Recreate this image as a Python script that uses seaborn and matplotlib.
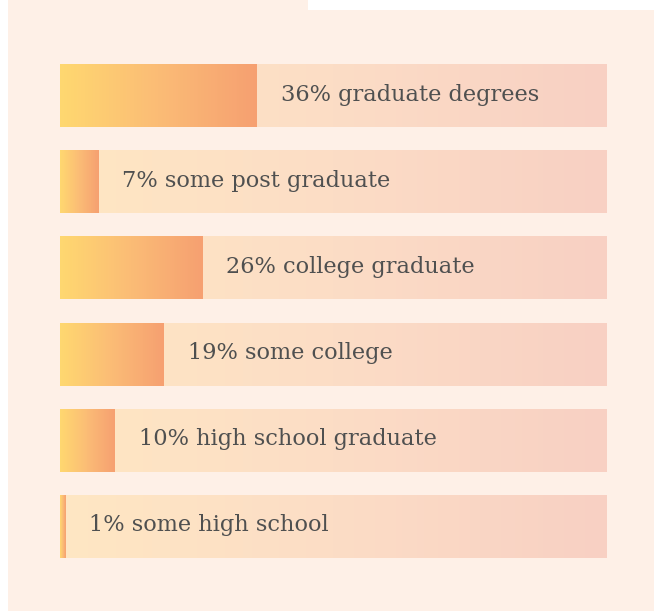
import numpy as np
import pandas as pd
import matplotlib
matplotlib.use("Agg")
import matplotlib.pyplot as plt
from matplotlib.colors import LinearSegmentedColormap
from matplotlib.patches import Rectangle
import seaborn as sns

# ---- data ----
categories = ["graduate degrees", "some post graduate", "college graduate",
              "some college", "high school graduate", "some high school"]
percentages = [36, 7, 26, 19, 10, 1]
track_total = [100, 100, 100, 100, 100, 100]

df = pd.DataFrame({"category": categories, "pct": percentages, "total": track_total})

W, H = 654, 611
fig = plt.figure(figsize=(W / 100, H / 100), dpi=100, facecolor="white")

peach = "#FEF0E7"
bg = fig.add_axes([0, 0, 1, 1], zorder=-5)
bg.set_xlim(0, W)
bg.set_ylim(H, 0)
bg.set_axis_off()
bg.add_patch(Rectangle((8, 10), 646, 601, facecolor=peach, edgecolor="none"))
bg.add_patch(Rectangle((8, 0), 300, 10, facecolor=peach, edgecolor="none"))

ax = fig.add_axes([60 / W, 1 - 569.6 / H, 547 / W, 517.2 / H], zorder=1)
ax.set_facecolor("none")

bar_w = 63 / 86.2
sns.barplot(data=df, y="category", x="total", orient="h", ax=ax, width=bar_w,
            color="#FBDCC4", saturation=1, edgecolor="none")
n_track = len(ax.patches)
sns.barplot(data=df, y="category", x="pct", orient="h", ax=ax, width=bar_w,
            color="#FBB870", saturation=1, edgecolor="none")

ax.set_xlim(0, 100)
ax.set_ylim(len(categories) - 0.5, -0.5)

track_cmap = LinearSegmentedColormap.from_list("track", ["#FFE7C3", "#FCDDC6", "#F8D0C3"])
fill_cmap = LinearSegmentedColormap.from_list("fill", ["#FFD870", "#FBBC76", "#F6A071"])
grad = np.linspace(0, 1, 256).reshape(1, -1)

patches = list(ax.patches)
for i, p in enumerate(patches):
    x0, y0 = p.get_x(), p.get_y()
    w, h = p.get_width(), p.get_height()
    cmap = track_cmap if i < n_track else fill_cmap
    z = 1 if i < n_track else 2
    im = ax.imshow(grad, cmap=cmap, aspect="auto", extent=(x0, x0 + w, y0 + h, y0),
                   zorder=z, interpolation="bicubic")
    im.set_clip_path(p)
    p.set_facecolor("none")

ax.set_xlim(0, 100)
ax.set_ylim(len(categories) - 0.5, -0.5)

for i, (cat, v) in enumerate(zip(categories, percentages)):
    ax.annotate(f"{v}% {cat}", xy=(v, i), xytext=(24, 1), textcoords="offset pixels",
                ha="left", va="center", fontsize=16.2, color="#4F5050",
                family=["DejaVu Serif"], zorder=5)

ax.set_axis_off()
fig.savefig("out.png", dpi=100, facecolor="white")
